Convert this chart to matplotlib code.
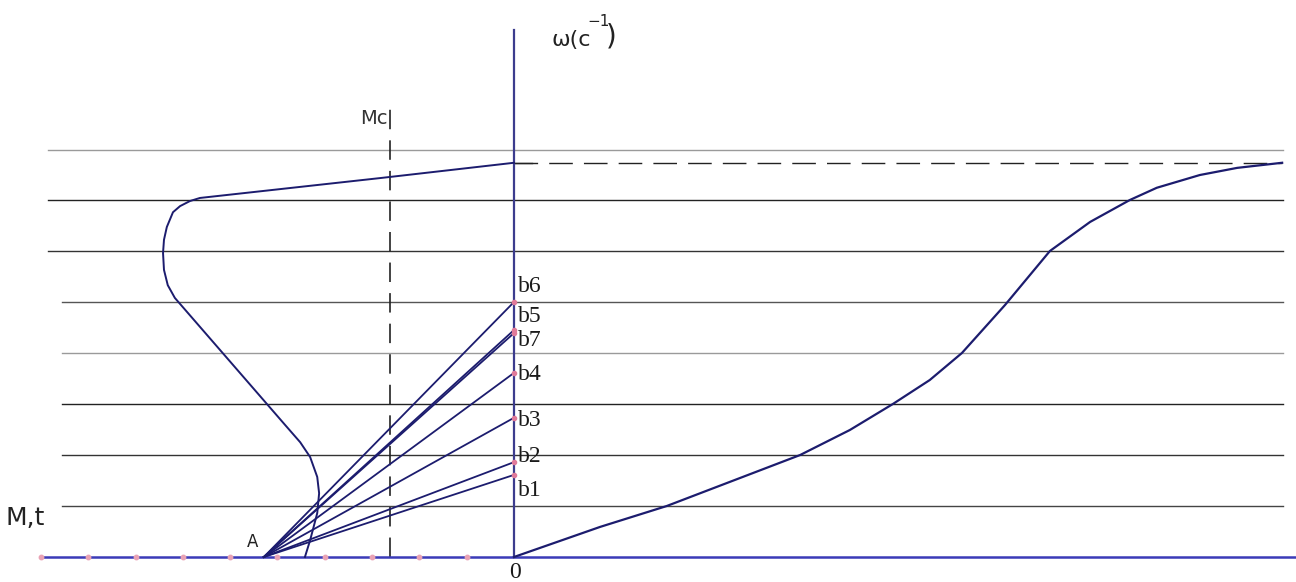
import matplotlib
matplotlib.use("Agg")
import matplotlib.pyplot as plt

# ---------------- data (x in tick units, omega in grid units) ----------------
grid_levels = [1, 2, 3, 4, 5, 6, 7, 7.98]
grid_colors = ["#444444", "#333333", "#222222", "#9a9a9a", "#555555", "#333333", "#222222", "#9a9a9a"]
grid_left = [-9.56, -9.56, -9.56, -9.56, -9.56, -9.85, -9.85, -9.85]
grid_right = 16.26

omega_max = 7.73

tick_x = [-1, -2, -3, -4, -5, -6, -7, -8, -9, -10]

A_x = -5.29
Mc_x = -2.62

# torque curve M(omega), left half-plane
m_curve_x = [0.0, -2.83, -6.64, -6.85, -7.06, -7.21, -7.34, -7.40, -7.42, -7.40,
             -7.32, -7.17, -4.84, -4.52, -4.31,
             -4.16, -4.12, -4.16, -4.31, -4.42]
m_curve_w = [7.73, 7.43, 7.04, 6.98, 6.88, 6.76, 6.47, 6.22, 5.96, 5.63,
             5.33, 5.08, 2.59, 2.25, 1.96,
             1.57, 1.25, 0.86, 0.33, 0.0]

# omega(t), right half-plane
t_curve = [0.0, 1.82, 3.23, 6.05, 7.10, 8.01, 8.79, 9.47, 10.38, 11.33,
           12.18, 13.02, 13.59, 14.50, 15.29, 16.24]
w_curve = [0.0, 0.59, 1.00, 2.00, 2.49, 3.00, 3.47, 4.00, 4.94, 6.00,
           6.57, 7.00, 7.24, 7.49, 7.63, 7.73]

b_names = ["b1", "b2", "b3", "b4", "b5", "b6", "b7"]
b_omega = [1.61, 1.86, 2.73, 3.61, 4.45, 5.00, 4.39]

# ---------------- figure ----------------
SX, SY, X0, Y0 = 47.3, 51.0, 514.0, 557.0
W, H = 1296, 582
plt.rcParams['lines.scale_dashes'] = False
fig = plt.figure(figsize=(W / 100, H / 100), dpi=100)
ax = fig.add_axes([0, 0, 1, 1])
ax.set_xlim((0 - X0) / SX, (W - X0) / SX)
ax.set_ylim((Y0 - H) / SY, Y0 / SY)
ax.axis('off')

navy = "#1c1c6e"
cad = ['DejaVu Sans']

# horizontal grid lines
for lvl, c, xl in zip(grid_levels, grid_colors, grid_left):
    ax.plot([xl, grid_right], [lvl, lvl], color=c, lw=1.0, zorder=1)

# omega max dashed
ax.plot([0, t_curve[-1]], [omega_max, omega_max], color="#222222", lw=1.0,
        dashes=(17, 8), zorder=2)
ax.plot([0, 0.38], [omega_max, omega_max], color="#222222", lw=1.0, zorder=2)

# Mc dashed vertical
ax.plot([Mc_x, Mc_x], [0, 8.78], color="#222222", lw=1.2, dashes=(14, 8), zorder=2)

# axes
ax.plot([(40 - X0) / SX, (W - X0) / SX], [0, 0], color="#3b3bb8", lw=1.8, zorder=3)
ax.plot([0, 0], [0, (Y0 - 30) / SY], color="#3c3c8e", lw=1.6, zorder=3)

# tick dots
ax.plot(tick_x, [0] * len(tick_x), linestyle='none', marker='o', ms=3.2,
        color="#e9a3b5", zorder=4)

# torque curve
ax.plot(m_curve_x, m_curve_w, color=navy, lw=1.4, zorder=5)

# omega(t)
ax.plot(t_curve, w_curve, color=navy, lw=1.6, zorder=5)

# lines A -> b
for w in b_omega:
    ax.plot([A_x, 0], [0, w], color=navy, lw=1.3, zorder=5)
ax.plot([0] * len(b_omega), b_omega, linestyle='none', marker='o', ms=3,
        color="#e07a9a", zorder=6)

# b labels
b_label_y = {"b1": 490, "b2": 456, "b3": 420, "b4": 375, "b5": 316, "b6": 286, "b7": 341}
for name in b_names:
    ax.text((518 - X0) / SX, (Y0 - b_label_y[name]) / SY, name,
            family='Liberation Serif', fontsize=17, color="#1a1a1a",
            ha='left', va='center')

# other texts
ax.text((515 - X0) / SX, (Y0 - 572) / SY, "0", family='Liberation Serif',
        fontsize=17, color="#1a1a1a", ha='center', va='center')
ax.text((253 - X0) / SX, (Y0 - 542) / SY, "A", family=cad, fontsize=12,
        color="#222222", ha='center', va='center')
ax.text((6 - X0) / SX, (Y0 - 518) / SY, "M,t", family=cad, fontsize=18,
        color="#222222", ha='left', va='center')
ax.text((360 - X0) / SX, (Y0 - 118) / SY, "Мс", family=cad, fontsize=14,
        color="#333333", ha='left', va='center')
ax.text((552 - X0) / SX, (Y0 - 40) / SY, "ω(с", family=cad, fontsize=16,
        color="#222222", ha='left', va='center')
ax.text((587 - X0) / SX, (Y0 - 22) / SY, "−1", family=cad, fontsize=11,
        color="#222222", ha='left', va='center')
ax.text((606 - X0) / SX, (Y0 - 36) / SY, ")", family=cad, fontsize=20,
        color="#222222", ha='left', va='center')

fig.savefig("out.png", dpi=100, facecolor="white")
